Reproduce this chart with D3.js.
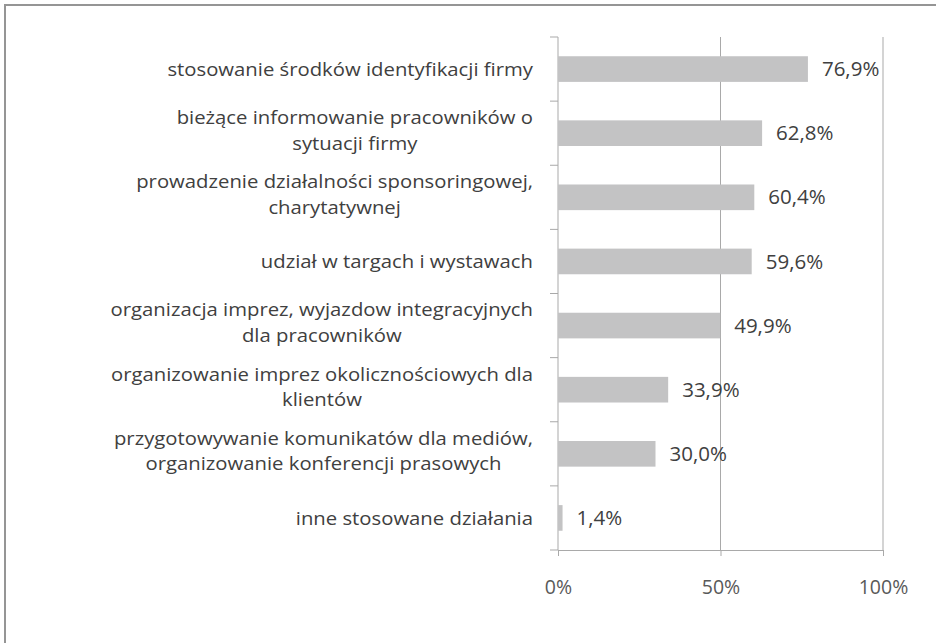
<!DOCTYPE html>
<html>
<head>
<meta charset="utf-8">
<script src="https://cdn.jsdelivr.net/npm/d3@7"></script>
<style>
  body { margin: 0; background: #fff; }
  text { font-family: "Open Sans", Lato, sans-serif; }
</style>
</head>
<body>
<div id="chart"></div>
<script>
// categories, with the line breaks used in the original
var categories = [
  "stosowanie środków identyfikacji firmy",
  "bieżące informowanie pracowników o\nsytuacji firmy",
  "prowadzenie działalności sponsoringowej,\ncharytatywnej",
  "udział w targach i wystawach",
  "organizacja imprez,  wyjazdow integracyjnych\ndla pracowników",
  "organizowanie imprez okolicznościowych dla\nklientów",
  "przygotowywanie komunikatów dla mediów,\norganizowanie konferencji prasowych",
  "inne stosowane działania"
];
var values = [76.9, 62.8, 60.4, 59.6, 49.9, 33.9, 30.0, 1.4];
var xTicks = [0, 50, 100];

var width = 936, height = 643;
var margin = {top: 37, right: 53, bottom: 93, left: 558};
var w = width - margin.left - margin.right;
var h = height - margin.top - margin.bottom;

var svg = d3.select("#chart").append("svg")
  .attr("width", width)
  .attr("height", height);

// outer frame (runs off the right and bottom edge)
svg.append("rect")
  .attr("x", 5).attr("y", 5)
  .attr("width", 940).attr("height", 650)
  .attr("fill", "none")
  .attr("stroke", "#959595")
  .attr("stroke-width", 2);

var g = svg.append("g")
  .attr("transform", "translate(" + margin.left + "," + margin.top + ")");

var xScale = d3.scaleLinear().domain([0, 100]).range([0, w]);
var yScale = d3.scaleBand()
  .domain(d3.range(categories.length))
  .range([0, h])
  .paddingInner(0.6)
  .paddingOuter(0.3);
var step = yScale.step();

// gridlines
g.selectAll(".grid")
  .data(xTicks.filter(function(d) { return d > 0; }))
  .enter().append("line")
  .attr("class", "grid")
  .attr("x1", function(d) { return xScale(d); })
  .attr("x2", function(d) { return xScale(d); })
  .attr("y1", 0).attr("y2", h)
  .attr("stroke", "#a9a9a9");

// bottom axis
var xAxis = g.append("g")
  .attr("transform", "translate(0," + h + ")")
  .call(d3.axisBottom(xScale).tickValues(xTicks).tickSize(6).tickPadding(24)
    .tickFormat(function(d) { return d + "%"; }));
xAxis.select(".domain").attr("stroke", "#a9a9a9");
xAxis.selectAll(".tick line").attr("stroke", "#a9a9a9");
xAxis.selectAll("text")
  .style("font-size", "19.5px")
  .attr("fill", "#595959");

// left axis line with ticks at category boundaries
g.append("line")
  .attr("x1", 0).attr("x2", 0)
  .attr("y1", 0).attr("y2", h)
  .attr("stroke", "#a9a9a9");
g.selectAll(".ytick")
  .data(d3.range(categories.length + 1))
  .enter().append("line")
  .attr("class", "ytick")
  .attr("x1", -8).attr("x2", 0)
  .attr("y1", function(d) { return d * step; })
  .attr("y2", function(d) { return d * step; })
  .attr("stroke", "#a9a9a9");

// bars
g.selectAll(".bar")
  .data(values)
  .enter().append("rect")
  .attr("class", "bar")
  .attr("x", 0)
  .attr("y", function(d, i) { return yScale(i); })
  .attr("width", function(d) { return xScale(d); })
  .attr("height", yScale.bandwidth())
  .attr("fill", "#c3c3c4");

// value labels
g.selectAll(".val")
  .data(values)
  .enter().append("text")
  .attr("class", "val")
  .attr("x", function(d) { return xScale(d) + 14; })
  .attr("y", function(d, i) { return yScale(i) + yScale.bandwidth() / 2; })
  .attr("dy", "0.35em")
  .style("font-size", "20.5px")
  .attr("fill", "#404040")
  .text(function(d) { return d.toFixed(1).replace(".", ",") + "%"; });

// category labels: block right-aligned, lines centred among themselves
// (slightly widened so the tight line spacing of the original still fits)
var lineH = 25.5, sx = 1.08;
categories.forEach(function(c, i) {
  var lines = c.split("\n");
  var t = g.append("text")
    .style("font-size", "18.8px")
    .attr("fill", "#404040")
    .attr("text-anchor", "middle");
  var cy = yScale(i) + yScale.bandwidth() / 2 - (lines.length - 1) * 3;
  var spans = t.selectAll("tspan").data(lines).enter().append("tspan")
    .attr("x", 0)
    .attr("y", function(d, j) { return cy + (j - (lines.length - 1) / 2) * lineH; })
    .attr("dy", "0.35em")
    .text(function(d) { return d; });
  var maxW = 0;
  spans.each(function() { maxW = Math.max(maxW, this.getComputedTextLength()); });
  t.attr("transform", "translate(" + (-25 - maxW * sx / 2) + ",0) scale(" + sx + ",1)");
});
</script>
</body>
</html>
